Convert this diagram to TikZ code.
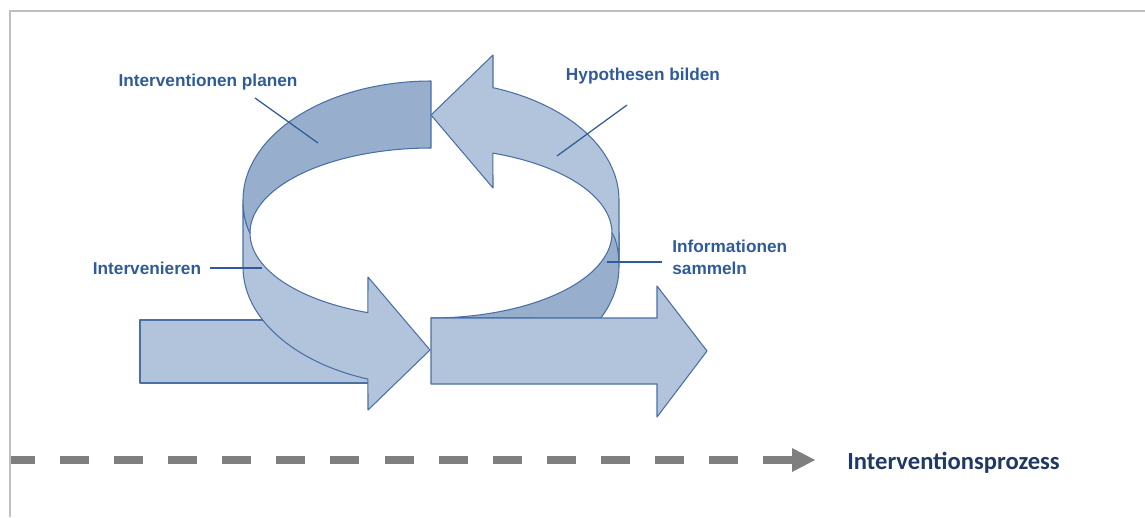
\documentclass[tikz,border=0pt]{standalone}
\usepackage{fontspec}
\setmainfont{Liberation Sans}
\newfontfamily\procfont{Carlito}
\definecolor{lightband}{HTML}{B1C4DC}
\definecolor{darkband}{HTML}{97AFCC}
\definecolor{edgeblue}{HTML}{4A6FA5}
\definecolor{labelblue}{HTML}{2F5B9A}
\definecolor{procgray}{HTML}{7F7F7F}
\definecolor{procnavy}{HTML}{1F3864}
\definecolor{framegray}{HTML}{BFBFBF}
\begin{document}
\begin{tikzpicture}[x=0.02cm,y=-0.02cm,
  bandlight/.style={fill=lightband,draw=edgeblue,line width=0.6pt,line join=round},
  banddark/.style={fill=darkband,draw=edgeblue,line width=0.6pt,line join=round},
  leader/.style={draw=labelblue,line width=0.7pt},
  lbl/.style={text=labelblue,font=\bfseries\fontsize{9.8}{12.5}\selectfont,inner sep=0pt}]
\useasboundingbox (0,0) rectangle (1145,517);
\draw[framegray,line width=1pt] (1145,11) -- (10,11) -- (10,517);

% inner face of the ring, lower right
\path[banddark] (431,318)
  -- plot[domain=90:0,samples=40,variable=\t] ({431+181*cos(\t)},{233+85*sin(\t)})
  -- (619,233)
  -- plot[domain=0:25.4,samples=12,variable=\t] ({431+188*cos(\t)},{267+119*sin(\t)})
  -- cycle;

% curved arrow "Hypothesen bilden"
\path[bandlight] (431,115) -- (493,55) -- (493,88)
  -- plot[domain=70.7:0,samples=40,variable=\t] ({431+188*cos(\t)},{200-119*sin(\t)})
  -- (619,262) .. controls (618,247) and (616,239) .. (612,233)
  -- plot[domain=0:70,samples=40,variable=\t] ({431+181*cos(\t)},{233-85*sin(\t)})
  -- (493,188) -- cycle;

% back band "Interventionen planen"
\path[banddark] (431,81)
  -- plot[domain=90:180,samples=40,variable=\t] ({431+188*cos(\t)},{200-119*sin(\t)})
  -- (243,205) .. controls (244,219) and (247,228) .. (250,233)
  -- plot[domain=180:90,samples=40,variable=\t] ({431+181*cos(\t)},{233-85*sin(\t)})
  -- cycle;

% straight arrow body on the left
\path[bandlight] (140,320) rectangle (375,383);

% curved arrow "Intervenieren"
\path[bandlight] (243,205) -- (243,267)
  -- plot[domain=180:109.6,samples=40,variable=\t] ({431+188*cos(\t)},{267+119*sin(\t)})
  -- (368,410) -- (430,350) -- (368,277)
  -- plot[domain=110.4:180,samples=40,variable=\t] ({431+181*cos(\t)},{233+85*sin(\t)})
  -- (250,233) .. controls (247,228) and (244,219) .. (243,205) -- cycle;

% straight arrow on the right
\path[bandlight] (431,318) -- (657,318) -- (657,286) -- (707,351)
  -- (657,417) -- (657,384) -- (431,384) -- cycle;

% labels and leader lines
\node[lbl] (lplan) at (208,82) {Interventionen planen};
\node[lbl] (lhyp) at (643,76) {Hypothesen bilden};
\node[lbl] (lint) at (147,268) {Intervenieren};
\node[lbl,align=left,anchor=west] (linfo) at (672,257) {Informationen\\sammeln};

\coordinate (planA) at (255,98);
\coordinate (planB) at (318,143);
\coordinate (hypA) at (627,105);
\coordinate (hypB) at (557,156);
\coordinate (intA) at (210,268);
\coordinate (intB) at (262,268);
\coordinate (infA) at (662,262);
\coordinate (infB) at (607,262);
\draw[leader] (planA) -- (planB);
\draw[leader] (hypA) -- (hypB);
\draw[leader] (intA) -- (intB);
\draw[leader] (infA) -- (infB);

% process axis
\coordinate (axisS) at (11,460);
\coordinate (axisE) at (792,460);
\draw[procgray,line width=4.5pt,dash pattern=on 0.58cm off 0.502cm,dash phase=0.102cm] (axisS) -- (axisE);
\fill[procgray] (792,448) -- (815,460) -- (792,472) -- cycle;
\node[text=procnavy,font=\procfont\bfseries\fontsize{14}{16}\selectfont,inner sep=0pt,anchor=west] (proc) at (847,463) {Interventionsprozess};
\end{tikzpicture}
\end{document}
